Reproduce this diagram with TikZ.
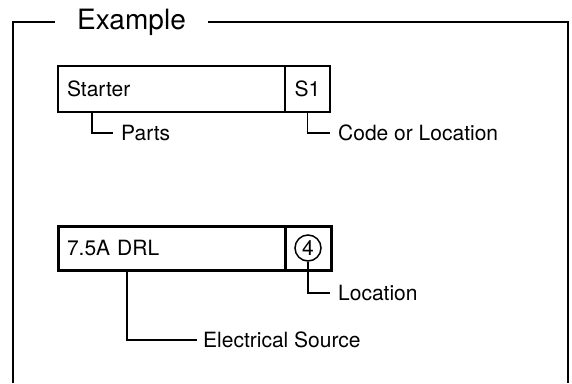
\documentclass[tikz,border=0pt]{standalone}
\usepackage{fontspec}
\setmainfont{TeX Gyre Heros}
\usetikzlibrary{positioning}

\tikzset{
  cell/.style={draw,line width=1.5pt,minimum height=46pt,inner sep=0pt,outer sep=0pt},
  namecell/.style={cell,text width=209pt,inner xsep=9pt,align=left},
  ring/.style={circle,draw,line width=1.5pt,minimum size=26pt,inner sep=0pt},
  tag/.style={anchor=west,inner xsep=8pt},
  lead/.style={line width=1.3pt}
}

\begin{document}
\begin{tikzpicture}[x=1pt,y=-1pt,font=\fontsize{21}{25}\selectfont]
   \useasboundingbox (0,0) rectangle (572,383);
   % frame with title
   \node[anchor=west,inner xsep=22pt,font=\fontsize{28}{33}\selectfont] (title) at (55,22) {Example};
   \draw[line width=2pt] (13,383) |- (title.west);
   \draw[line width=2pt] (title.east) -| (568,383);

   % parts box
   \node[namecell,anchor=north west] (starter) at (58,66) {Starter};
   \node[cell,anchor=north west,minimum width=45pt] (s1) at (starter.north east) {S1};
   \node[tag] (parts) at (113,133) {Parts};
   \node[tag] (code) at (330,133) {Code or Location};
   \draw[lead] ([xshift=34pt]starter.south west) |- (parts);
   \draw[lead] (s1.south) |- (code);

   % fuse box
   \node[namecell,line width=3pt,minimum height=44pt,anchor=north west] (drl) at (58,226) {7.5A DRL};
   \node[cell,line width=3pt,minimum height=44pt,anchor=north west,minimum width=46pt] (drlloc) at (drl.north east) {};
   \node[ring] (four) at (drlloc) {4};
   \node[tag] (location) at (330,293) {Location};
   \node[tag,inner xsep=6pt] (source) at (197,340) {Electrical Source};
   \draw[lead] (four) |- (location);
   \draw[lead] ([xshift=69pt]drl.south west) |- (source);
\end{tikzpicture}
\end{document}
